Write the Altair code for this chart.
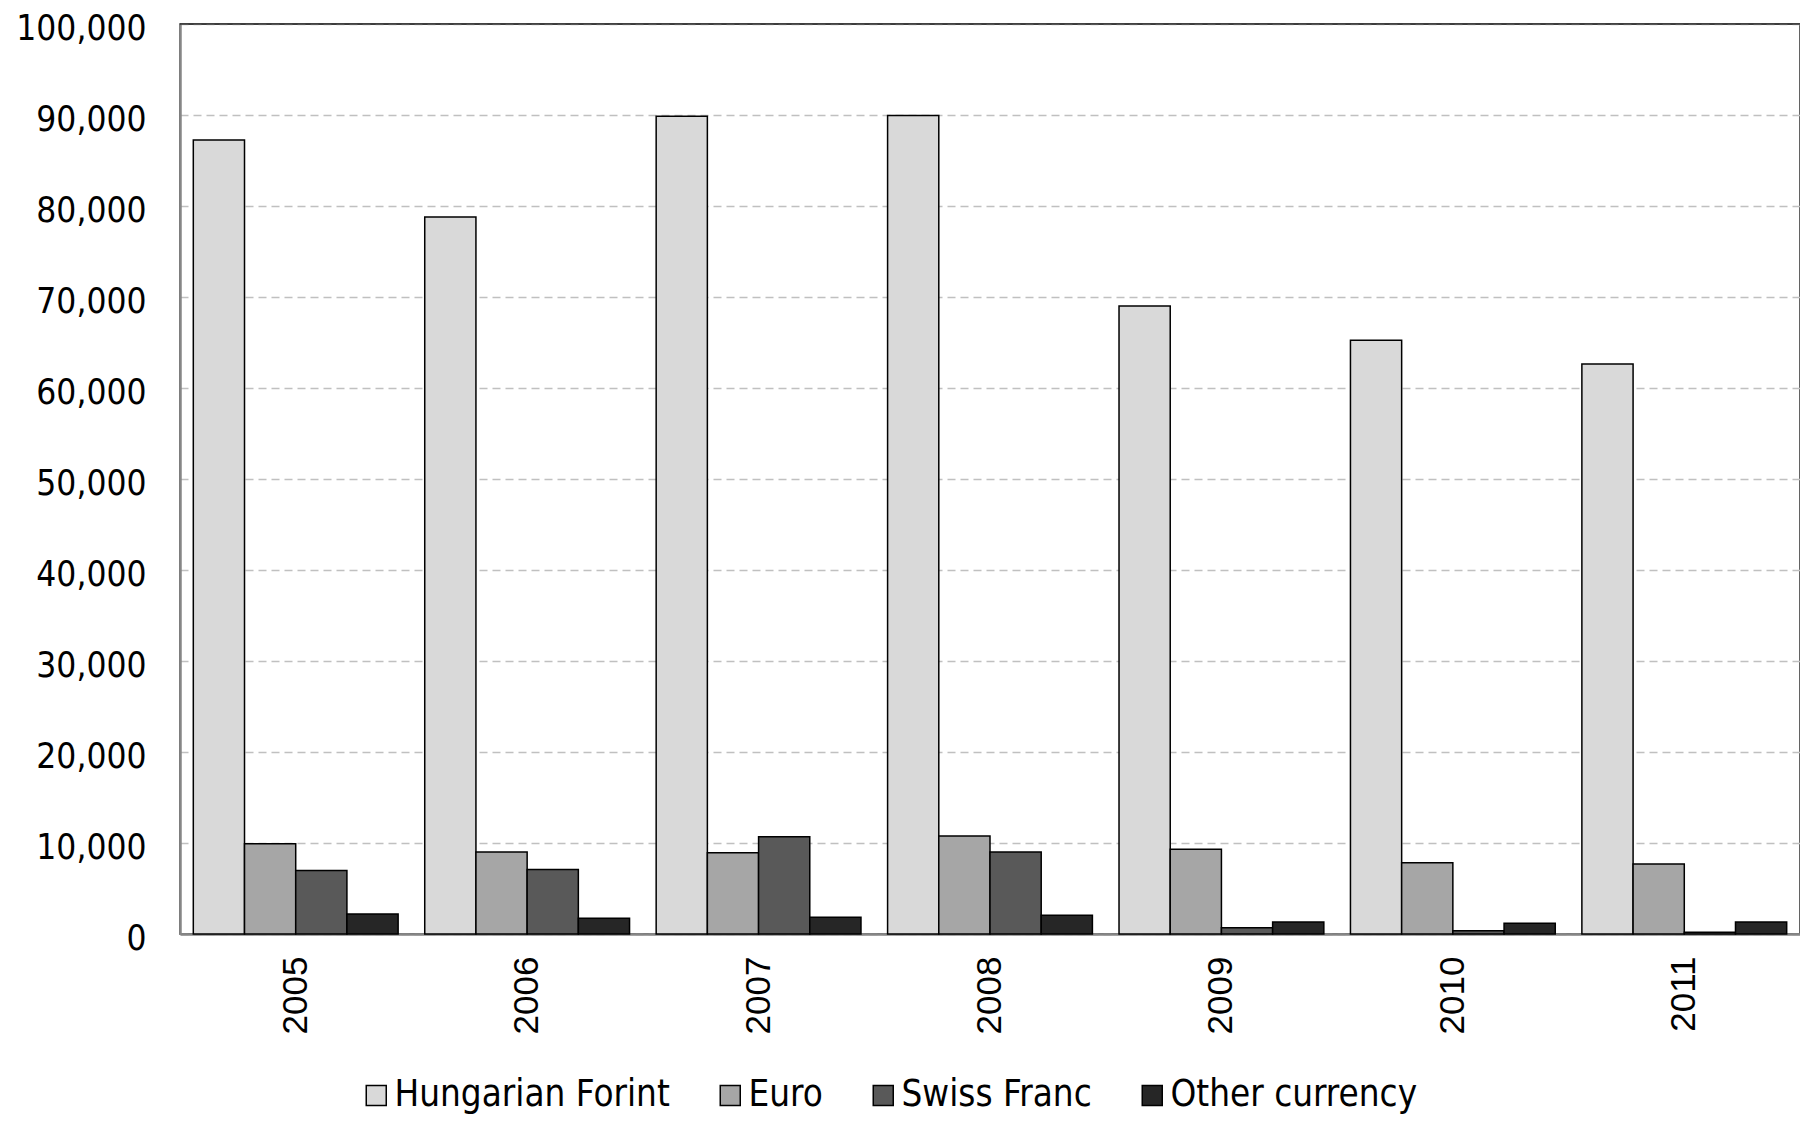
import altair as alt
import pandas as pd

years = ["2005", "2006", "2007", "2008", "2009", "2010", "2011"]
currencies = ["Hungarian Forint", "Euro", "Swiss Franc", "Other currency"]
forint = [87250, 78800, 89850, 89950, 69000, 65250, 62650]
euro = [9930, 9000, 8930, 10780, 9300, 7830, 7680]
swiss = [6970, 7080, 10700, 9000, 700, 370, 180]
other = [2210, 1730, 1850, 2060, 1320, 1180, 1320]
colors = ["#d9d9d9", "#a6a6a6", "#595959", "#262626"]
y_ticks = [0, 10000, 20000, 30000, 40000, 50000, 60000, 70000, 80000, 90000, 100000]

series = [forint, euro, swiss, other]
rows = []
for cur, vals in zip(currencies, series):
    for yr, v in zip(years, vals):
        rows.append({"year": yr, "currency": cur, "value": v})
df = pd.DataFrame(rows)

tahoma = "DejaVu Sans Condensed, DejaVu Sans"
arial = "Liberation Sans"

bars = alt.Chart(df).mark_bar(stroke="black", strokeWidth=1.5).encode(
    x=alt.X(
        "year:N",
        sort=years,
        scale=alt.Scale(paddingInner=0.115, paddingOuter=0.0575),
        axis=alt.Axis(
            title=None, labelAngle=270, labelAlign="right", labelBaseline="middle",
            labelFont=arial, labelFontSize=35, labelColor="black", labelPadding=22,
            ticks=False, domainColor="#868686", domainWidth=2.5, grid=False,
        ),
    ),
    xOffset=alt.XOffset("currency:N", sort=currencies,
                        scale=alt.Scale(paddingInner=0, paddingOuter=0)),
    y=alt.Y(
        "value:Q",
        scale=alt.Scale(domain=[0, 100000], nice=False),
        axis=alt.Axis(
            title=None, values=y_ticks, format=",.0f", labelFont=tahoma, labelFontSize=35,
            labelColor="black", labelPadding=34, labelOffset=4, ticks=False,
            domainColor="#868686", domainWidth=2.5,
            grid=True, gridColor="#c0c0c0", gridDash=[8, 5], gridWidth=1.5,
        ),
    ),
    color=alt.Color(
        "currency:N",
        sort=currencies,
        scale=alt.Scale(domain=currencies, range=colors),
        legend=alt.Legend(
            title=None, orient="none", legendX=178, legendY=1053, direction="horizontal",
            symbolType="square", symbolSize=400, symbolStrokeColor="black",
            symbolStrokeWidth=1.5, labelFont=tahoma, labelFontSize=36.5, labelColor="black",
            labelLimit=1000, labelOffset=0, columnPadding=42,
        ),
    ),
)

top_border = alt.Chart(pd.DataFrame({"v": [y_ticks[-1]]})).mark_rule(
    color="#303030", strokeWidth=1.5
).encode(y="v:Q")

chart = alt.layer(bars, top_border).properties(
    width=1620,
    height=910,
    padding={"left": 172, "top": 16, "right": 0, "bottom": 184},
    autosize=alt.AutoSizeParams(type="none"),
).configure_view(
    stroke="#303030", strokeWidth=1.5
)

chart.save("out.html", embed_options={"renderer": "svg", "actions": False})
